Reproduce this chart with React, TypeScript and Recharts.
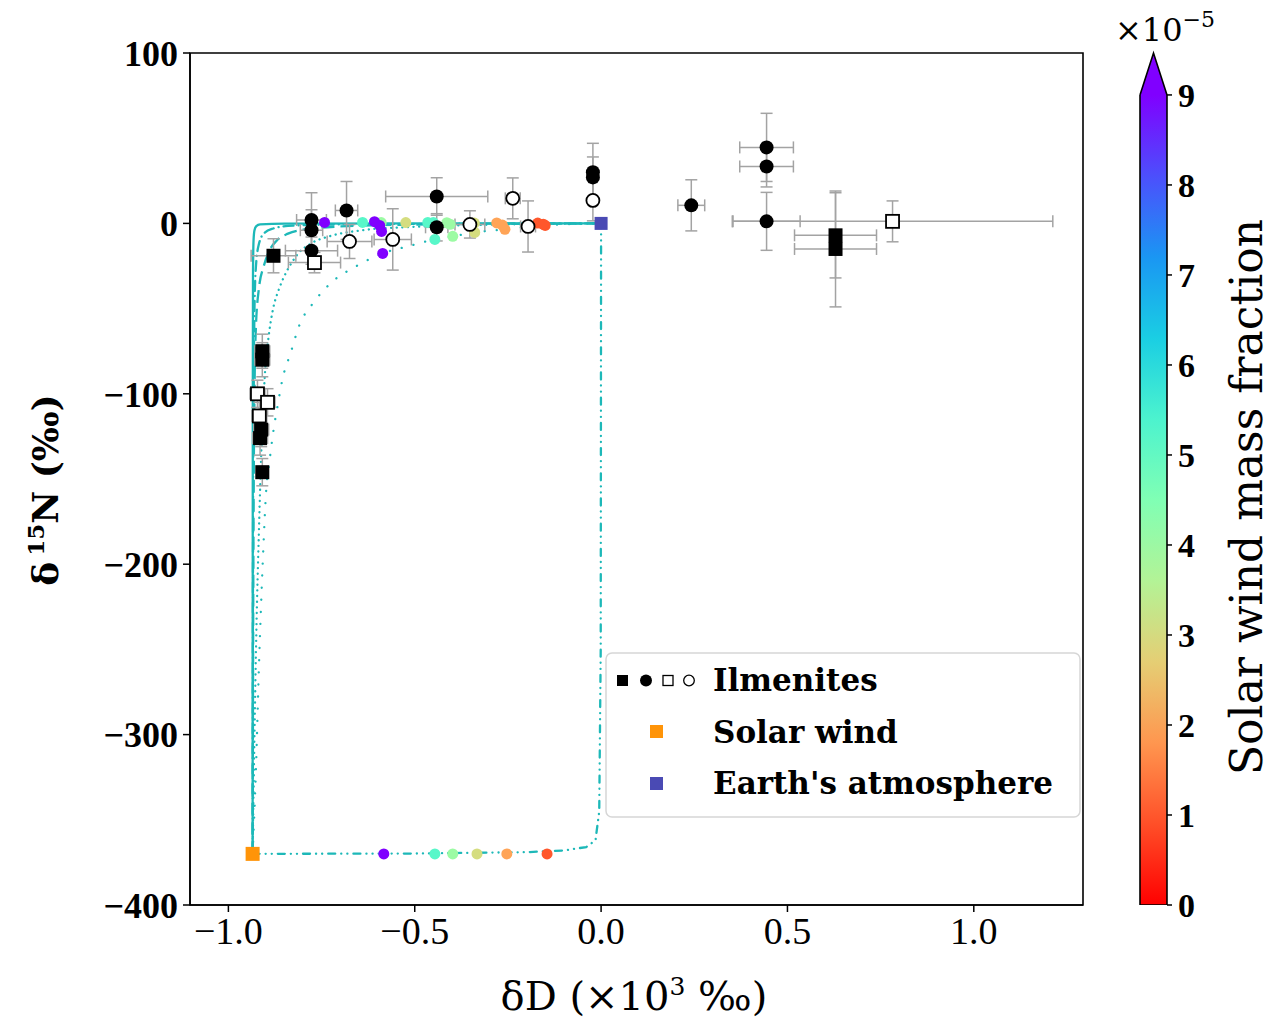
import React from "react"
import {
  ComposedChart, BarChart, Bar, Scatter, Line, XAxis, YAxis, ErrorBar,
  Legend, ReferenceArea, Cell,
} from "recharts"

const SERIF = "'Liberation Serif', serif"
const WIDE = "'DejaVu Serif', serif"
const CURVE = "#1db8b8"
const ERR = "#a3a3a3"
const SOLAR_COLOR = "#ff9408"
const EARTH_COLOR = "#4a4ab4"

const X_DOMAIN: [number, number] = [-1.103, 1.293]
const Y_DOMAIN: [number, number] = [-400, 100]
const X_TICKS = [-1, -0.5, 0, 0.5, 1]
const Y_TICKS = [-400, -300, -200, -100, 0, 100]
const CB_TICKS = [0, 1, 2, 3, 4, 5, 6, 7, 8, 9]
const CB_MAX = 9
const CB_TOP = 9.466

// ilmenite measurements: dD (x10^3 permil), d15N (permil), errors
const FILLED_SQUARES = [
  { x: -0.879, y: -19, ex: 0.06, ey: 10 },
  { x: -0.909, y: -75, ex: 0.02, ey: 10 },
  { x: -0.909, y: -80, ex: 0.02, ey: 10 },
  { x: -0.912, y: -121, ex: 0.02, ey: 10 },
  { x: -0.915, y: -126, ex: 0.02, ey: 10 },
  { x: -0.909, y: -146, ex: 0.015, ey: 8 },
  { x: 0.629, y: -7, ex: 0.11, ey: 25 },
  { x: 0.629, y: -15, ex: 0.11, ey: 34 },
]
const FILLED_CIRCLES = [
  { x: -0.777, y: 2, ex: 0.04, ey: 16 },
  { x: -0.777, y: -4, ex: 0.03, ey: 12 },
  { x: -0.777, y: -16, ex: 0.07, ey: 8 },
  { x: -0.683, y: 7.6, ex: 0.03, ey: 17 },
  { x: -0.441, y: 15.8, ex: 0.137, ey: 11 },
  { x: -0.441, y: -2.3, ex: 0.03, ey: 8 },
  { x: -0.022, y: 30, ex: 0.01, ey: 17 },
  { x: -0.022, y: 27, ex: 0.01, ey: 12 },
  { x: 0.242, y: 10.6, ex: 0.036, ey: 15 },
  { x: 0.444, y: 44.6, ex: 0.072, ey: 20 },
  { x: 0.444, y: 33.4, ex: 0.072, ey: 12 },
  { x: 0.444, y: 1.2, ex: 0.09, ey: 17 },
]
const OPEN_SQUARES = [
  { x: -0.769, y: -23, ex: 0.07, ey: 6 },
  { x: -0.922, y: -100, ex: 0.02, ey: 8 },
  { x: -0.895, y: -105, ex: 0.02, ey: 8 },
  { x: -0.917, y: -113, ex: 0.02, ey: 8 },
  { x: 0.782, y: 1.2, ex: 0.43, ey: 12 },
]
const OPEN_CIRCLES = [
  { x: -0.675, y: -10.6, ex: 0.06, ey: 10 },
  { x: -0.559, y: -9.4, ex: 0.05, ey: 18 },
  { x: -0.352, y: -0.6, ex: 0.04, ey: 8 },
  { x: -0.237, y: 14.7, ex: 0.02, ey: 12 },
  { x: -0.196, y: -1.8, ex: 0.02, ey: 15 },
  { x: -0.022, y: 13.5, ex: 0.01, ey: 12 },
]

const SOLAR_WIND = [{ x: -0.935, y: -370 }]
const EARTH_ATM = [{ x: 0, y: 0 }]

// mixing model points, f = solar wind mass fraction (x1e-5)
const MODEL_POINTS = [
  { x: -0.583, y: -370, f: 9 },
  { x: -0.446, y: -370, f: 5.2 },
  { x: -0.398, y: -370, f: 4 },
  { x: -0.333, y: -370, f: 3 },
  { x: -0.253, y: -370, f: 2 },
  { x: -0.145, y: -370, f: 1 },
  { x: -0.586, y: -17.6, f: 9 },
  { x: -0.446, y: -9.4, f: 5.2 },
  { x: -0.398, y: -7.6, f: 4 },
  { x: -0.339, y: -5.3, f: 3 },
  { x: -0.258, y: -3.5, f: 2 },
  { x: -0.15, y: -1.2, f: 1 },
  { x: -0.64, y: 0.6, f: 5.2 },
  { x: -0.742, y: 0.6, f: 9 },
  { x: -0.59, y: 0.5, f: 4 },
  { x: -0.524, y: 0.5, f: 3 },
  { x: -0.465, y: 0.6, f: 5.2 },
  { x: -0.45, y: 0.5, f: 5.2 },
  { x: -0.414, y: 0.4, f: 4 },
  { x: -0.405, y: -0.5, f: 4 },
  { x: -0.34, y: 0.2, f: 3 },
  { x: -0.28, y: 0.3, f: 2 },
  { x: -0.265, y: -1, f: 2 },
  { x: -0.17, y: 0.2, f: 1 },
  { x: -0.155, y: -0.5, f: 1 },
  { x: -0.608, y: 1, f: 9 },
  { x: -0.594, y: -1.2, f: 9 },
  { x: -0.589, y: -4.7, f: 9 },
]

// mixing curves
const MIX_SOLID = [
  { x: -0.935, y: -370 }, { x: -0.9345, y: -100 }, { x: -0.934, y: -30 },
  { x: -0.9325, y: -10 }, { x: -0.93, y: -4 }, { x: -0.925, y: -1.6 },
  { x: -0.915, y: -0.6 }, { x: -0.85, y: -0.1 }, { x: 0, y: 0 },
]
const MIX_DASHED = [
  { x: -0.935, y: -370 }, { x: -0.933, y: -200 }, { x: -0.93, y: -100 },
  { x: -0.926, y: -60 }, { x: -0.918, y: -38 }, { x: -0.905, y: -25 },
  { x: -0.89, y: -16 }, { x: -0.87, y: -10 }, { x: -0.84, y: -6 },
  { x: -0.8, y: -3.7 }, { x: -0.7, y: -1.8 }, { x: -0.5, y: -0.7 },
  { x: -0.2, y: -0.2 }, { x: 0, y: 0 },
]
const MIX_DASHDOT = [
  { x: -0.935, y: -370 }, { x: -0.934, y: -200 }, { x: -0.932, y: -100 },
  { x: -0.93, y: -50 }, { x: -0.926, y: -25 }, { x: -0.918, y: -12 },
  { x: -0.905, y: -6 }, { x: -0.88, y: -3 }, { x: -0.84, y: -1.5 },
  { x: -0.7, y: -0.6 }, { x: -0.3, y: -0.1 }, { x: 0, y: 0 },
]
const MIX_DOTTED = [
  { x: -0.935, y: -370 }, { x: -0.93, y: -300 }, { x: -0.925, y: -240 },
  { x: -0.918, y: -180 }, { x: -0.911, y: -130 }, { x: -0.905, y: -100 },
  { x: -0.9, y: -82 }, { x: -0.893, y: -68 }, { x: -0.88, y: -50 },
  { x: -0.865, y: -39 }, { x: -0.85, y: -31 }, { x: -0.83, y: -23 },
  { x: -0.81, y: -17 }, { x: -0.78, y: -12 }, { x: -0.72, y: -7 },
  { x: -0.64, y: -4 }, { x: -0.5, y: -2 }, { x: -0.3, y: -0.8 }, { x: 0, y: 0 },
]
const MIX_SPARSE = [
  { x: -0.935, y: -370 }, { x: -0.926, y: -320 }, { x: -0.918, y: -260 },
  { x: -0.908, y: -200 }, { x: -0.898, y: -155 }, { x: -0.89, y: -140 },
  { x: -0.88, y: -123 }, { x: -0.868, y: -107 }, { x: -0.855, y: -91.5 },
  { x: -0.833, y: -76 }, { x: -0.81, y: -60 }, { x: -0.77, y: -46 },
  { x: -0.72, y: -34 }, { x: -0.656, y: -25 }, { x: -0.586, y: -17.6 },
  { x: -0.519, y: -13.5 }, { x: -0.446, y: -9.4 }, { x: -0.398, y: -7.6 },
  { x: -0.339, y: -5.3 }, { x: -0.258, y: -3.5 }, { x: -0.15, y: -1.2 },
  { x: 0, y: 0 },
]
const MIX_BOTTOM = [
  { x: -0.935, y: -370 }, { x: -0.5, y: -369.8 }, { x: -0.2, y: -369 },
  { x: -0.1, y: -368 }, { x: -0.04, y: -366 }, { x: -0.015, y: -362 },
  { x: -0.005, y: -345 }, { x: -0.001, y: -250 }, { x: 0, y: 0 },
]

const CURVES = [
  { data: MIX_BOTTOM, dash: "7 6 0.1 6 0.1 6", cap: "round", type: "linear" },
  { data: MIX_SPARSE, dash: "0.1 12", cap: "round", type: "monotone" },
  { data: MIX_DOTTED, dash: "0.1 5.5", cap: "round", type: "monotone" },
  { data: MIX_DASHDOT, dash: "10 5 0.1 5", cap: "round", type: "monotone" },
  { data: MIX_DASHED, dash: "13 6", cap: "butt", type: "monotone" },
  { data: MIX_SOLID, dash: undefined, cap: "butt", type: "monotone" },
]

// matplotlib rainbow, reversed, over 0..9
function rainbowR(v: number) {
  const t = 1 - Math.min(Math.max(v / CB_MAX, 0), 1)
  const r = Math.min(1, Math.abs(2 * t - 0.5))
  const g = Math.sin(Math.PI * t)
  const b = Math.cos((Math.PI * t) / 2)
  const h = (c: number) => Math.round(Math.max(0, Math.min(1, c)) * 255).toString(16).padStart(2, "0")
  return `#${h(r)}${h(g)}${h(b)}`
}

const fmt = (v: number, d: number) => (v < 0 ? "\u2212" : "") + Math.abs(v).toFixed(d)

const filledSquare = (p: any) => <rect x={p.cx - 7} y={p.cy - 7} width={14} height={14} fill="#000" />
const filledCircle = (p: any) => <circle cx={p.cx} cy={p.cy} r={7} fill="#000" />
const openSquare = (p: any) => (
  <rect x={p.cx - 6.5} y={p.cy - 6.5} width={13} height={13} fill="#fff" stroke="#000" strokeWidth={1.8} />
)
const openCircle = (p: any) => <circle cx={p.cx} cy={p.cy} r={6.5} fill="#fff" stroke="#000" strokeWidth={1.8} />
const modelDot = (p: any) => <circle cx={p.cx} cy={p.cy} r={5.5} fill={p.fill} />
const solarMark = (p: any) => <rect x={p.cx - 7} y={p.cy - 7} width={14} height={14} fill={SOLAR_COLOR} />
const earthMark = (p: any) => <rect x={p.cx - 6.5} y={p.cy - 6.5} width={13} height={13} fill={EARTH_COLOR} />

function errBars() {
  return [
    <ErrorBar key="ey" dataKey="ey" direction="y" width={6} stroke={ERR} strokeWidth={1.5} />,
    <ErrorBar key="ex" dataKey="ex" direction="x" width={6} stroke={ERR} strokeWidth={1.5} />,
  ]
}

function LegendBox() {
  const txt = { fontFamily: WIDE, fontSize: 31, fontWeight: "bold" as const, fill: "#000" }
  return (
    <svg width={476} height={166} style={{ display: "block" }}>
      <rect x={1} y={1} width={474} height={164} rx={6} fill="rgba(255,255,255,0.85)" stroke="#d6d6d6" strokeWidth={1.5} />
      <rect x={12} y={23} width={11} height={11} fill="#000" />
      <circle cx={41} cy={28.5} r={6} fill="#000" />
      <rect x={58} y={23.5} width={10} height={10} fill="#fff" stroke="#000" strokeWidth={1.3} />
      <circle cx={84} cy={28.5} r={5.3} fill="#fff" stroke="#000" strokeWidth={1.3} />
      <text x={108} y={39} {...txt}>Ilmenites</text>
      <rect x={45} y={73} width={13} height={13} fill={SOLAR_COLOR} />
      <text x={108} y={91} {...txt}>Solar wind</text>
      <rect x={45} y={125} width={13} height={13} fill={EARTH_COLOR} />
      <text x={108} y={142} {...txt}>Earth's atmosphere</text>
    </svg>
  )
}

const CB_DATA = [{ name: "fraction", v: CB_MAX }]

const cbBar = (p: any) => (
  <g>
    <rect x={p.x} y={p.y} width={p.width} height={p.height} fill="url(#cbGrad)" />
    <path d={`M${p.x},${p.y} V${p.y + p.height} H${p.x + p.width} V${p.y}`} fill="none" stroke="#000" strokeWidth={1.6} />
  </g>
)
const cbArrow = (p: any) => (
  <path
    d={`M${p.x},${p.y + p.height} L${p.x + p.width / 2},${p.y} L${p.x + p.width},${p.y + p.height}`}
    fill={rainbowR(CB_MAX)}
    stroke="#000"
    strokeWidth={1.6}
  />
)

export default function App() {
  return (
    <div style={{ position: "absolute", left: 0, top: 0, width: 1274, height: 1019, background: "#fff" }}>
      <div style={{ position: "absolute", left: 0, top: 0 }}>
        <ComposedChart width={1274} height={1019} margin={{ top: 53, right: 191, bottom: 54, left: 90 }}>
          <XAxis
            type="number"
            dataKey="x"
            domain={X_DOMAIN}
            allowDataOverflow
            ticks={X_TICKS}
            tickFormatter={(v: number) => fmt(v, 1)}
            height={60}
            tickSize={7}
            tickMargin={5}
            stroke="#000"
            axisLine={{ stroke: "#000", strokeWidth: 1.5 }}
            tickLine={{ stroke: "#000", strokeWidth: 1.5 }}
            tick={{ fontFamily: SERIF, fontSize: 38, fill: "#000" }}
            label={{
              content: () => (
                <text x={634} y={1010} textAnchor="middle" fontFamily={WIDE} fontSize={40} fill="#000">
                  δD (×10<tspan dy={-15} fontSize={25}>3</tspan><tspan dy={15}> ‰)</tspan>
                </text>
              ),
            }}
          />
          <YAxis
            type="number"
            dataKey="y"
            domain={Y_DOMAIN}
            allowDataOverflow
            ticks={Y_TICKS}
            tickFormatter={(v: number) => fmt(v, 0)}
            width={100}
            tickSize={7}
            tickMargin={5}
            stroke="#000"
            axisLine={{ stroke: "#000", strokeWidth: 1.5 }}
            tickLine={{ stroke: "#000", strokeWidth: 1.5 }}
            tick={{ fontFamily: SERIF, fontSize: 36, fontWeight: "bold", fill: "#000" }}
            label={{
              content: () => (
                <text transform="translate(58 490) rotate(-90)" textAnchor="middle" fontFamily={WIDE} fontSize={36} fontWeight="bold" fill="#000">
                  δ<tspan dx={6} dy={-14} fontSize={23}>15</tspan><tspan dy={14}>N (‰)</tspan>
                </text>
              ),
            }}
          />

          {CURVES.map((c, i) => (
            <Line
              key={i}
              data={c.data}
              dataKey="y"
              type={c.type as any}
              stroke={CURVE}
              strokeWidth={2.3}
              strokeDasharray={c.dash}
              strokeLinecap={c.cap as any}
              dot={false}
              activeDot={false}
              isAnimationActive={false}
            />
          ))}

          <Scatter data={MODEL_POINTS} dataKey="y" shape={modelDot} isAnimationActive={false}>
            {MODEL_POINTS.map((m, i) => <Cell key={i} fill={rainbowR(m.f)} />)}
          </Scatter>

          <Scatter data={FILLED_SQUARES} dataKey="y" shape={filledSquare} isAnimationActive={false}>{errBars()}</Scatter>
          <Scatter data={FILLED_CIRCLES} dataKey="y" shape={filledCircle} isAnimationActive={false}>{errBars()}</Scatter>
          <Scatter data={OPEN_SQUARES} dataKey="y" shape={openSquare} isAnimationActive={false}>{errBars()}</Scatter>
          <Scatter data={OPEN_CIRCLES} dataKey="y" shape={openCircle} isAnimationActive={false}>{errBars()}</Scatter>

          <Scatter data={SOLAR_WIND} dataKey="y" shape={solarMark} isAnimationActive={false} />
          <Scatter data={EARTH_ATM} dataKey="y" shape={earthMark} isAnimationActive={false} />

          <ReferenceArea
            x1={X_DOMAIN[0]}
            x2={X_DOMAIN[1]}
            y1={Y_DOMAIN[0]}
            y2={Y_DOMAIN[1]}
            fill="none"
            stroke="#000"
            strokeWidth={1.6}
            ifOverflow="visible"
          />

          <Legend
            layout="vertical"
            align="center"
            verticalAlign="middle"
            content={() => <LegendBox />}
            wrapperStyle={{ left: 605, top: 652, width: 476, height: 166 }}
          />
        </ComposedChart>
      </div>

      <div style={{ position: "absolute", left: 1100, top: 0 }}>
        <BarChart
          width={174}
          height={1019}
          data={CB_DATA}
          barCategoryGap={0}
          margin={{ top: 53, right: 47, bottom: 114, left: 40 }}
        >
          <defs>
            <linearGradient id="cbGrad" x1="0" y1="1" x2="0" y2="0">
              {CB_TICKS.concat([CB_MAX]).map((_, i) => (
                <stop key={i} offset={`${(i / 10) * 100}%`} stopColor={rainbowR((CB_MAX * i) / 10)} />
              ))}
            </linearGradient>
          </defs>
          <XAxis dataKey="name" hide />
          <YAxis
            type="number"
            orientation="right"
            domain={[0, CB_TOP]}
            allowDataOverflow
            ticks={CB_TICKS}
            width={60}
            axisLine={false}
            tickSize={5}
            tickMargin={6}
            tickLine={{ stroke: "#000", strokeWidth: 1.5 }}
            tick={{ fontFamily: SERIF, fontSize: 34, fontWeight: "bold", fill: "#000" }}
            label={{
              content: () => (
                <text transform="translate(162 497) rotate(-90)" textAnchor="middle" fontFamily={WIDE} fontSize={44} fill="#000">
                  Solar wind mass fraction
                </text>
              ),
            }}
          />
          <Bar dataKey="v" shape={cbBar} isAnimationActive={false} />
          <ReferenceArea
            y1={CB_MAX}
            y2={CB_TOP}
            shape={cbArrow}
            ifOverflow="visible"
            label={{
              content: () => (
                <text x={15} y={41} fontFamily={WIDE} fontSize={32} fill="#000">
                  ×10<tspan dy={-14} fontSize={22}>−5</tspan>
                </text>
              ),
            }}
          />
        </BarChart>
      </div>
    </div>
  )
}
